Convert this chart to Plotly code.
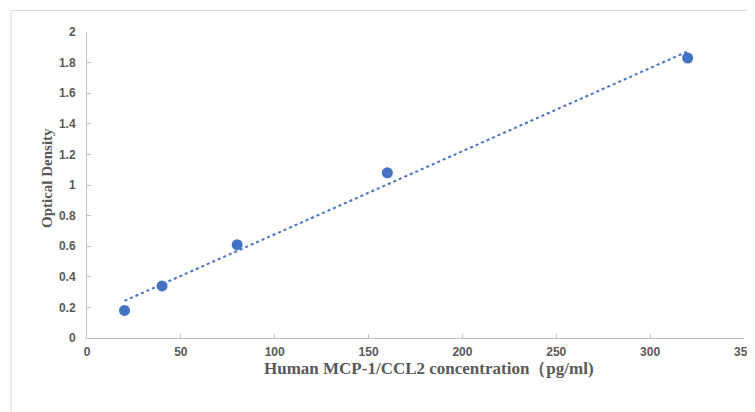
import numpy as np
import plotly.graph_objects as go

conc = [20, 40, 80, 160, 320]
od = [0.18, 0.34, 0.61, 1.08, 1.83]
x_ticks = [0, 50, 100, 150, 200, 250, 300, 350]
y_ticks = [0, 0.2, 0.4, 0.6, 0.8, 1, 1.2, 1.4, 1.6, 1.8, 2]
y_tick_text = ["0", "0.2", "0.4", "0.6", "0.8", "1", "1.2", "1.4", "1.6", "1.8", "2"]
x_title = "Human MCP-1/CCL2 concentration（pg/ml)"
y_title = "Optical Density"

slope, intercept = np.polyfit(conc, od, 1)
fit_x = [min(conc), max(conc)]
fit_y = [slope * v + intercept for v in fit_x]

# page body has an 8px margin, so figure is sized to fill the rest of the window
W, H = 747, 404
L, R, T, B = 79, 11, 24, 74
pw = W - L - R
ph = H - T - B

def px(fx):
    return (fx - L) / pw

def py(fy):
    return (H - B - fy) / ph

fig = go.Figure()
fig.add_trace(go.Scatter(x=fit_x, y=fit_y, mode="lines",
                         line=dict(color="#4472C4", width=2, dash="dot"),
                         hoverinfo="skip", showlegend=False))
fig.add_trace(go.Scatter(x=conc, y=od, mode="markers",
                         marker=dict(color="#4472C4", size=11),
                         showlegend=False))

fig.add_shape(type="rect", xref="paper", yref="paper",
              x0=px(3), x1=px(W + 5), y0=py(H + 5), y1=py(2.5),
              line=dict(color="#D9D9D9", width=1), fillcolor="rgba(0,0,0,0)", layer="below")

fig.add_annotation(text=x_title, xref="paper", yref="paper", x=px(421), y=py(349),
                   xanchor="center", yanchor="top", showarrow=False,
                   font=dict(family="Liberation Serif", size=17, color="#595959", weight="bold"))
fig.add_annotation(text=y_title, xref="paper", yref="paper", x=px(39), y=py(170),
                   xanchor="center", yanchor="middle", showarrow=False, textangle=-90,
                   font=dict(family="Liberation Serif", size=15, color="#595959", weight="bold"))

tickfont = dict(family="Liberation Sans", size=12, color="#595959", weight="bold")
fig.update_layout(
    width=W, height=H,
    margin=dict(l=L, r=R, t=T, b=B),
    paper_bgcolor="white", plot_bgcolor="white",
    xaxis=dict(range=[0, 350], tickvals=x_ticks, showgrid=False, zeroline=False,
               showline=True, linecolor="#BFBFBF", linewidth=1,
               ticks="inside", ticklen=4, tickcolor="#BFBFBF", automargin=False,
               tickfont=tickfont, ticklabelstandoff=3, ticklabeloverflow="allow"),
    yaxis=dict(range=[0, 2], tickvals=y_ticks, ticktext=y_tick_text, showgrid=False, zeroline=False,
               showline=True, linecolor="#BFBFBF", linewidth=1,
               ticks="inside", ticklen=4, tickcolor="#BFBFBF", automargin=False,
               tickfont=tickfont, ticklabelstandoff=8),
)
fig.write_html("out.html")
